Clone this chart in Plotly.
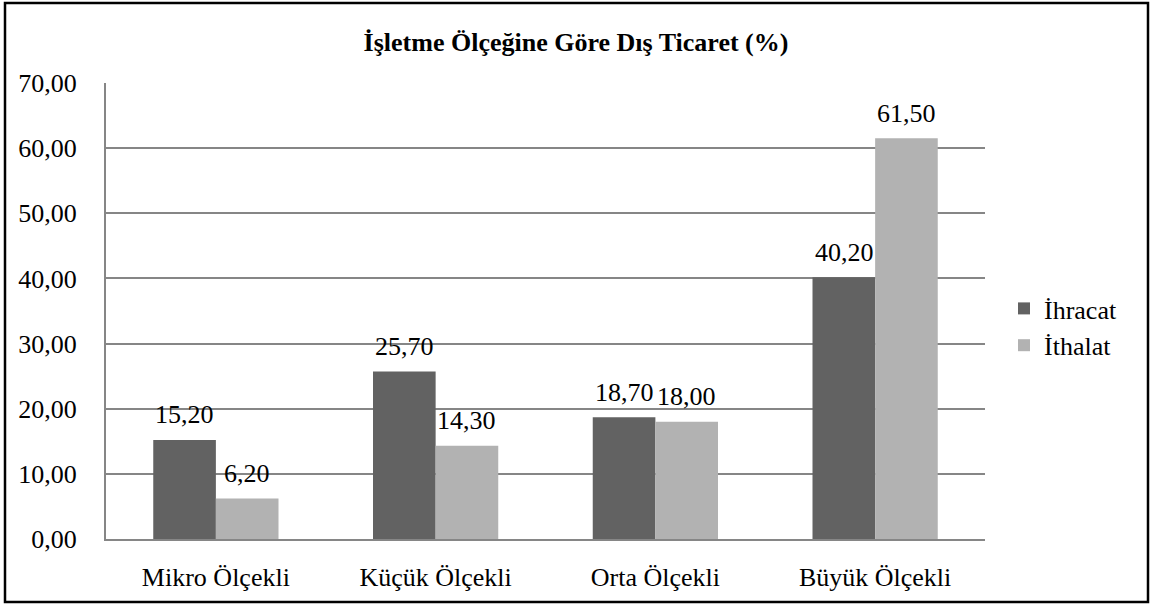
import plotly.graph_objects as go

categories = ["Mikro Ölçekli", "Küçük Ölçekli", "Orta Ölçekli", "Büyük Ölçekli"]
ihracat = [15.20, 25.70, 18.70, 40.20]
ithalat = [6.20, 14.30, 18.00, 61.50]
series_names = ["İhracat", "İthalat"]
title_text = "İşletme Ölçeğine Göre Dış Ticaret (%)"

FONT = "Liberation Serif"
DARK = "#626262"
LIGHT = "#b2b2b2"
FS = 26

fig = go.Figure()
fig.add_trace(go.Bar(x=categories, y=ihracat, name=series_names[0], marker_color=DARK,
                     marker_line_width=0))
fig.add_trace(go.Bar(x=categories, y=ithalat, name=series_names[1], marker_color=LIGHT,
                     marker_line_width=0))

annotations = []
for vals, shift in ((ihracat, -31), (ithalat, 31)):
    for c, v in zip(categories, vals):
        annotations.append(dict(
            x=c, y=v, xref="x", yref="y", text=f"{v:.2f}".replace(".", ","),
            showarrow=False, xshift=shift, yshift=25, yanchor="middle",
            font=dict(family=FONT, size=FS, color="#000000")))

L, R, T, B = 106, 167, 83, 69
W, H = 1152, 608
pw, ph = W - L - R, H - T - B

def px2x(px):
    return (px - L) / pw

def py2y(py):
    return (H - B - py) / ph

fig.update_layout(
    width=W, height=H,
    margin=dict(l=L, r=R, t=T, b=B, pad=0),
    paper_bgcolor="white", plot_bgcolor="white",
    separators=",.",
    barmode="group", bargap=0.43, bargroupgap=0,
    font=dict(family=FONT, size=FS, color="#000000"),
    title=dict(text=f"<b>{title_text}</b>", x=0.5, xanchor="center",
               y=1 - 42 / H, yanchor="middle",
               font=dict(family=FONT, size=FS, color="#000000")),
    legend=dict(x=px2x(1004), xanchor="left", y=py2y(327), yanchor="middle",
                font=dict(family=FONT, size=FS), itemwidth=30,
                tracegroupgap=8, bgcolor="rgba(0,0,0,0)"),
    annotations=annotations,
    shapes=[dict(type="rect", xref="paper", yref="paper",
                 x0=px2x(5), x1=px2x(1148), y0=py2y(602), y1=py2y(3),
                 line=dict(color="#000000", width=2.5), layer="below")],
    showlegend=True,
)
fig.update_xaxes(showline=True, linecolor="#868686", linewidth=2, showgrid=False,
                 ticks="", ticklabelstandoff=14,
                 tickfont=dict(family=FONT, size=FS))
fig.update_yaxes(range=[0, 70], dtick=10, tickformat=".2f",
                 showline=True, linecolor="#868686", linewidth=2,
                 showgrid=True, gridcolor="#868686", gridwidth=1.5,
                 zeroline=False, ticks="", ticklabelstandoff=22,
                 tickfont=dict(family=FONT, size=FS))

fig.write_html("out.html", config={"displayModeBar": False},
               post_script="document.body.style.margin='0';document.body.style.padding='0';")
